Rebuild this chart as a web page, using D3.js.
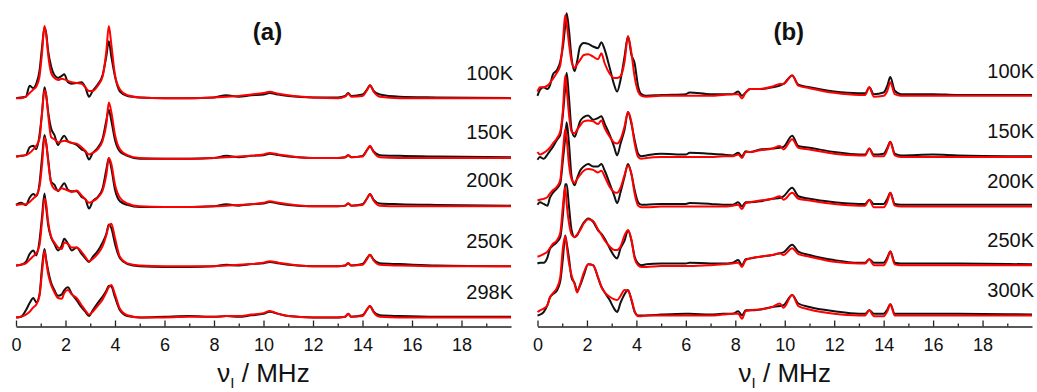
<!DOCTYPE html>
<html lang="en">
<head>
<meta charset="UTF-8">
<title>ENDOR spectra vs temperature</title>
<script src="https://d3js.org/d3.v7.min.js"></script>
<style>
  body { margin: 0; background: #fff; }
  svg { display: block; font-family: "Liberation Sans", Arial, sans-serif; }
  .axis path, .axis line { stroke: #222; stroke-width: 1.3px; }
  .axis text { font-family: "Liberation Sans", Arial, sans-serif; font-size: 18px; fill: #111; }
  .trace { fill: none; stroke-width: 2px; stroke-linejoin: round; }
  .exp { stroke: #111; }
  .sim { stroke: #ff0000; }
</style>
</head>
<body>
<div id="chart"></div>
<script>
// frequency grids (MHz)
const freqA = [0, 0.2, 0.4, 0.55, 0.7,  0.82, 0.95, 1.05, 1.15, 1.22,  1.3, 1.42, 1.55, 1.7, 1.85,
  1.95, 2.1, 2.25, 2.45, 2.65,  2.8, 2.95, 3.1, 3.3, 3.5,  3.65, 3.75, 3.85, 4.0, 4.2,
  4.5, 5.0, 6, 7, 8,  8.5, 9, 9.5, 10, 10.25,  10.6, 11, 12, 13, 13.3,
  13.42, 13.55, 14, 14.2, 14.3,  14.45, 14.7, 15.5, 17, 20];

const freqB = [0, 0.1, 0.25, 0.4, 0.5,  0.62, 0.78, 0.92, 1.03, 1.12,  1.18, 1.27, 1.38, 1.5, 1.6,
  1.72, 1.87, 2.05, 2.25, 2.45,  2.58, 2.72, 2.92, 3.1, 3.22,  3.36, 3.52, 3.66, 3.8, 3.93,
  4.07, 4.2, 4.4, 5, 6,  6.15, 7, 7.5, 7.9, 8.12,  8.27, 8.42, 8.6, 9, 9.5,
  9.8, 9.95, 10.3, 10.55, 11,  12, 13, 13.25, 13.42, 13.6,  14, 14.15, 14.27, 14.45, 14.7,
  16, 17, 20];

const tempsA = ["100K", "150K", "200K", "250K", "298K"];
const tempsB = ["100K", "150K", "200K", "250K", "300K"];

// vertical stacking offsets (normalised intensity units)
const offsetsA = [3.04, 2.23, 1.56, 0.72, 0];
const offsetsB = [2.58, 1.87, 1.28, 0.59, 0];

// panel (a): experiment (black) and simulation (red)
const expA100 = [0, 0.01, 0.02, 0.17, 0.14,  0.2, 0.38, 0.7, 0.98, 0.9,  0.65, 0.44, 0.32, 0.28, 0.31,
  0.33, 0.22, 0.2, 0.21, 0.22,  0.15, 0.02, 0.1, 0.19, 0.32,  0.58, 0.79, 0.58, 0.3, 0.09,
  0.03, 0.01, 0, 0, 0.01,  0.04, 0.02, 0.04, 0.05, 0.07,  0.05, 0.03, 0.01, 0.01, 0.03,
  0.07, 0.03, 0.05, 0.13, 0.18,  0.1, 0.05, 0.02, 0.01, 0];
const simA100 = [0, 0, 0.02, 0.07, 0.12,  0.16, 0.3, 0.62, 1.0, 0.88,  0.6, 0.35, 0.28, 0.25, 0.27,
  0.26, 0.24, 0.22, 0.21, 0.2,  0.15, 0.1, 0.1, 0.17, 0.3,  0.65, 1.0, 0.75, 0.32, 0.12,
  0.04, 0.01, 0, 0, 0.01,  0.02, 0.03, 0.05, 0.07, 0.09,  0.06, 0.04, 0.01, 0, 0.02,
  0.06, 0.02, 0.03, 0.12, 0.18,  0.09, 0.02, 0, 0, 0];

const expA150 = [0, 0.01, 0.02, 0.13, 0.15,  0.1, 0.3, 0.6, 0.96, 0.85,  0.62, 0.39, 0.3, 0.16, 0.25,
  0.29, 0.21, 0.19, 0.16, 0.1,  0.07, -0.04, 0.05, 0.12, 0.25,  0.5, 0.65, 0.5, 0.23, 0.07,
  0.01, -0.03, -0.03, -0.03, -0.02,  0.01, -0.01, 0.01, 0.02, 0.04,  0.02, 0, -0.02, -0.02, -0.01,
  0.02, -0.01, 0.01, 0.1, 0.14,  0.07, 0.02, 0.01, 0, -0.01];
const simA150 = [0, 0.01, 0.02, 0.05, 0.1,  0.15, 0.25, 0.6, 0.92, 0.85,  0.58, 0.27, 0.24, 0.2, 0.21,
  0.22, 0.21, 0.19, 0.18, 0.13,  0.08, 0.03, 0.05, 0.1, 0.22,  0.45, 0.75, 0.62, 0.3, 0.1,
  0.02, -0.02, -0.03, -0.03, -0.02,  -0.01, 0, 0.01, 0.03, 0.05,  0.03, 0.01, -0.02, -0.02, -0.01,
  0.02, -0.01, 0, 0.1, 0.15,  0.06, -0.01, -0.02, -0.02, -0.02];

const expA200 = [0, 0.03, 0, 0.1, 0.15,  0.12, 0.3, 0.65, 0.97, 0.85,  0.63, 0.32, 0.28, 0.19, 0.26,
  0.3, 0.21, 0.19, 0.19, 0.11,  0.08, -0.05, 0.05, 0.11, 0.23,  0.49, 0.65, 0.51, 0.21, 0.05,
  0, -0.03, -0.03, -0.03, -0.02,  0.01, -0.01, 0.01, 0.02, 0.04,  0.02, 0, -0.02, -0.02, -0.01,
  0.02, -0.01, 0.01, 0.1, 0.15,  0.07, 0.02, 0.01, 0, -0.01];
const simA200 = [0, 0.01, 0.01, 0.04, 0.09,  0.13, 0.25, 0.55, 0.93, 0.86,  0.6, 0.3, 0.22, 0.2, 0.23,
  0.22, 0.2, 0.18, 0.2, 0.13,  0.08, 0.03, 0.05, 0.1, 0.2,  0.42, 0.65, 0.57, 0.28, 0.1,
  0.02, -0.02, -0.03, -0.03, -0.02,  -0.01, 0, 0.01, 0.03, 0.05,  0.03, 0.01, -0.02, -0.02, -0.01,
  0.02, -0.01, 0, 0.1, 0.15,  0.06, -0.01, -0.02, -0.02, -0.02];

const expA250 = [0, 0.01, 0.05, 0.16, 0.21,  0.14, 0.35, 0.67, 1.0, 0.8,  0.56, 0.39, 0.3, 0.21, 0.28,
  0.37, 0.3, 0.21, 0.25, 0.16,  0.1, 0.05, 0.12, 0.2, 0.32,  0.44, 0.57, 0.52, 0.3, 0.1,
  0.02, -0.01, -0.02, -0.02, -0.01,  0.01, 0, 0.02, 0.03, 0.05,  0.03, 0.01, -0.01, -0.01, 0,
  0.03, 0, 0.02, 0.11, 0.15,  0.08, 0.03, 0.02, 0, -0.01];
const simA250 = [0, 0.01, 0.03, 0.08, 0.13,  0.17, 0.28, 0.6, 0.93, 0.85,  0.6, 0.4, 0.32, 0.25, 0.23,
  0.32, 0.3, 0.25, 0.25, 0.19,  0.12, 0.06, 0.09, 0.16, 0.27,  0.42, 0.55, 0.58, 0.38, 0.12,
  0.03, 0, -0.01, -0.01, -0.01,  0, 0.01, 0.02, 0.04, 0.06,  0.04, 0.02, -0.01, -0.01, 0,
  0.03, 0, 0.01, 0.1, 0.15,  0.07, 0.01, 0, -0.01, -0.01];

const expA298 = [0, 0.01, 0.1, 0.2, 0.27,  0.21, 0.32, 0.69, 0.95, 0.8,  0.65, 0.48, 0.38, 0.3, 0.32,
  0.38, 0.42, 0.33, 0.24, 0.14,  0.08, 0.02, 0.1, 0.2, 0.29,  0.37, 0.44, 0.43, 0.28, 0.1,
  0.02, 0, 0.01, 0.02, 0.01,  0.02, 0.01, 0.03, 0.05, 0.08,  0.05, 0.02, 0, 0, 0.01,
  0.05, 0.01, 0.03, 0.12, 0.16,  0.08, 0.03, 0.02, 0.01, 0.01];
const simA298 = [0, 0.01, 0.04, 0.08, 0.14,  0.18, 0.3, 0.62, 0.92, 0.78,  0.6, 0.45, 0.35, 0.27, 0.26,
  0.34, 0.38, 0.32, 0.27, 0.17,  0.1, 0.04, 0.08, 0.16, 0.25,  0.35, 0.42, 0.45, 0.32, 0.12,
  0.03, 0, 0, 0.01, 0.01,  0.02, 0.02, 0.04, 0.06, 0.09,  0.05, 0.02, 0, 0, 0.01,
  0.05, 0.01, 0.02, 0.12, 0.16,  0.07, 0.01, 0, 0, 0];

// panel (b)
const expB100 = [0, 0.07, 0.1, 0.08, 0.12,  0.25, 0.3, 0.4, 0.58, 0.82,  0.97, 0.78, 0.44, 0.29, 0.4,
  0.58, 0.62, 0.61, 0.58, 0.56,  0.63, 0.54, 0.33, 0.13, 0.05,  0.19, 0.46, 0.7, 0.48, 0.38,
  0.11, 0.02, 0, 0.01, 0.02,  0.04, 0.02, 0.02, 0.02, 0.05,  0, 0.04, 0.08, 0.08, 0.1,
  0.12, 0.14, 0.24, 0.13, 0.1,  0.05, 0.03, 0.03, 0.1, 0.02,  0.04, 0.12, 0.22, 0.06, 0.02,
  0.02, 0.01, 0.01];
const simB100 = [0.05, 0.1, 0.1, 0.12, 0.15,  0.2, 0.27, 0.36, 0.65, 0.95,  0.85, 0.62, 0.4, 0.33, 0.37,
  0.42, 0.48, 0.49, 0.46, 0.43,  0.5, 0.38, 0.26, 0.21, 0.21,  0.23, 0.4, 0.7, 0.5, 0.22,
  0.05, 0, -0.01, 0, 0,  0, 0, 0.01, 0.02, 0.02,  -0.03, 0.04, 0.08, 0.08, 0.11,
  0.14, 0.14, 0.24, 0.12, 0.09,  0.035, 0.01, 0.01, 0.1, -0.01,  0, 0.06, 0.16, 0.02, 0,
  0, 0, 0];

const expB150 = [-0.04, -0.01, -0.03, 0.02, 0.06,  0.11, 0.19, 0.25, 0.5, 0.8,  0.98, 0.7, 0.31, 0.23, 0.3,
  0.41, 0.46, 0.48, 0.43, 0.45,  0.47, 0.38, 0.25, 0.11, 0.01,  0.15, 0.31, 0.52, 0.38, 0.19,
  0.03, 0, 0.01, 0.03, 0.02,  0.04, 0.03, 0.02, 0.01, 0.04,  0, 0.06, 0.05, 0.08, 0.09,
  0.1, 0.11, 0.24, 0.12, 0.1,  0.05, 0.02, 0.02, 0.09, 0.02,  0.03, 0.1, 0.17, 0.03, 0.01,
  0.02, 0.01, 0];
const simB150 = [0.05, 0.02, 0.04, 0.07, 0.1,  0.15, 0.21, 0.29, 0.55, 0.95,  0.8, 0.5, 0.29, 0.27, 0.31,
  0.36, 0.41, 0.42, 0.41, 0.38,  0.42, 0.33, 0.23, 0.16, 0.15,  0.2, 0.35, 0.52, 0.4, 0.15,
  -0.01, -0.03, -0.02, -0.01, -0.01,  -0.01, -0.01, 0, 0, 0.02,  -0.02, 0.05, 0.05, 0.07, 0.09,
  0.12, 0.08, 0.2, 0.1, 0.08,  0.03, 0.01, 0.01, 0.09, 0,  0, 0.08, 0.17, 0.01, -0.01,
  -0.01, -0.01, -0.01];

const expB200 = [0.02, 0.05, 0.03, 0.01, 0.1,  0.16, 0.21, 0.27, 0.55, 0.8,  0.99, 0.75, 0.35, 0.25, 0.33,
  0.42, 0.47, 0.5, 0.47, 0.47,  0.5, 0.42, 0.27, 0.13, 0.04,  0.17, 0.35, 0.5, 0.38, 0.19,
  0.05, 0.02, 0.02, 0.03, 0.03,  0.04, 0.03, 0.02, 0.02, 0.05,  0, 0.05, 0.05, 0.06, 0.09,
  0.1, 0.12, 0.22, 0.12, 0.09,  0.05, 0.03, 0.03, 0.08, 0.03,  0.03, 0.09, 0.16, 0.03, 0.02,
  0.02, 0.02, 0.02];
const simB200 = [0.07, 0.08, 0.09, 0.11, 0.15,  0.19, 0.23, 0.31, 0.65, 0.91,  0.8, 0.5, 0.32, 0.28, 0.32,
  0.37, 0.42, 0.44, 0.43, 0.4,  0.42, 0.35, 0.23, 0.17, 0.16,  0.22, 0.37, 0.48, 0.38, 0.15,
  0.01, -0.01, -0.01, 0, 0,  0, 0, 0, 0.01, 0.02,  -0.03, 0.04, 0.05, 0.07, 0.09,
  0.12, 0.08, 0.16, 0.09, 0.07,  0.03, 0.01, 0.01, 0.08, -0.01,  -0.01, 0.06, 0.16, 0.01, 0,
  0, 0, 0];

const expB250 = [0.02, 0.03, 0.03, 0.09, 0.19,  0.23, 0.27, 0.33, 0.6, 0.95,  0.95, 0.7, 0.41, 0.33, 0.35,
  0.42, 0.5, 0.55, 0.51, 0.41,  0.37, 0.31, 0.2, 0.11, 0.08,  0.2, 0.29, 0.41, 0.29, 0.1,
  0.02, 0, 0.01, 0.02, 0.02,  0.03, 0.02, 0.02, 0.03, 0.06,  0, 0.07, 0.08, 0.1, 0.12,
  0.14, 0.15, 0.24, 0.16, 0.12,  0.06, 0.03, 0.03, 0.07, 0.03,  0.03, 0.09, 0.16, 0.03, 0.02,
  0.02, 0.02, 0.01];
const simB250 = [0.1, 0.11, 0.13, 0.16, 0.2,  0.25, 0.29, 0.38, 0.7, 0.92,  0.72, 0.5, 0.36, 0.33, 0.36,
  0.41, 0.49, 0.54, 0.52, 0.42,  0.36, 0.29, 0.22, 0.18, 0.18,  0.22, 0.35, 0.41, 0.3, 0.08,
  0, -0.02, -0.02, -0.01, -0.01,  -0.01, 0, 0.01, 0.02, 0.03,  -0.02, 0.06, 0.08, 0.1, 0.12,
  0.14, 0.12, 0.2, 0.13, 0.1,  0.04, 0.02, 0.02, 0.07, 0,  0, 0.07, 0.16, 0.01, 0,
  0, 0, 0];

const expB300 = [0, 0.01, 0.04, 0.12, 0.21,  0.25, 0.29, 0.4, 0.68, 0.94,  0.85, 0.68, 0.44, 0.38, 0.29,
  0.35, 0.47, 0.6, 0.59, 0.44,  0.34, 0.27, 0.18, 0.08, 0.04,  0.15, 0.25, 0.3, 0.18, 0.04,
  0, 0, 0, 0.01, 0.02,  0.02, 0.01, 0.02, 0.02, 0.05,  0, 0.06, 0.06, 0.07, 0.1,
  0.11, 0.12, 0.24, 0.14, 0.1,  0.05, 0.02, 0.02, 0.06, 0.02,  0.02, 0.07, 0.13, 0.02, 0.02,
  0.02, 0.02, 0.01];
const simB300 = [0.04, 0.06, 0.08, 0.12, 0.21,  0.26, 0.32, 0.45, 0.8, 0.93,  0.82, 0.62, 0.47, 0.37, 0.27,
  0.36, 0.5, 0.6, 0.59, 0.45,  0.34, 0.27, 0.22, 0.19, 0.18,  0.23, 0.3, 0.29, 0.19, 0.05,
  -0.01, -0.01, 0, 0, 0,  0, 0, 0.01, 0.02, 0.02,  -0.04, 0.05, 0.06, 0.07, 0.1,
  0.14, 0.09, 0.24, 0.11, 0.07,  0.02, 0, 0, 0.06, -0.01,  -0.01, 0.05, 0.13, 0, 0,
  0, 0, 0];

const W = 1037, H = 392;
const axisY = 326.5;

const panels = [
  { title: "(a)", freq: freqA, temps: tempsA, offsets: offsetsA,
    exp: [expA100, expA150, expA200, expA250, expA298],
    sim: [simA100, simA150, simA200, simA250, simA298],
    left: 16, right: 511, yDomain: [-0.125, 4.4] },
  { title: "(b)", freq: freqB, temps: tempsB, offsets: offsetsB,
    exp: [expB100, expB150, expB200, expB250, expB300],
    sim: [simB100, simB150, simB200, simB250, simB300],
    left: 537.5, right: 1032, yDomain: [-0.13, 3.706] }
];

const svg = d3.select('#chart').append('svg')
  .attr('width', W)
  .attr('height', H);

svg.append('rect').attr('width', W).attr('height', H).attr('fill', '#fff');

panels.forEach(p => {
  const g = svg.append('g');
  const x = d3.scaleLinear().domain([0, 20]).range([p.left, p.right]);
  const y = d3.scaleLinear().domain(p.yDomain).range([axisY, 0]);

  // spectra, black first then red on top
  p.temps.forEach((t, i) => {
    const line = d3.line()
      .x(d => x(d[0]))
      .y(d => y(d[1] + p.offsets[i]))
      .curve(d3.curveMonotoneX);

    g.append('path')
      .datum(p.freq.map((f, k) => [f, p.exp[i][k]]))
      .attr('class', 'trace exp')
      .attr('d', line);

    g.append('path')
      .datum(p.freq.map((f, k) => [f, p.sim[i][k]]))
      .attr('class', 'trace sim')
      .attr('d', line);

    g.append('text')
      .attr('x', p.right + 2)
      .attr('y', y(p.offsets[i]) - 18)
      .attr('text-anchor', 'end')
      .attr('font-size', 20)
      .attr('fill', '#111')
      .text(t);
  });

  // x axis: major ticks with labels, minor ticks between, all pointing inward
  g.append('g')
    .attr('class', 'axis')
    .attr('transform', `translate(0,${axisY})`)
    .call(d3.axisBottom(x)
      .tickValues(d3.range(0, 20, 2))
      .tickSizeInner(-6)
      .tickSizeOuter(0)
      .tickPadding(12)
      .tickFormat(d3.format('d')));

  const minor = g.append('g')
    .attr('class', 'axis')
    .attr('transform', `translate(0,${axisY})`)
    .call(d3.axisBottom(x)
      .tickValues(d3.range(1, 20, 2))
      .tickSizeInner(-3)
      .tickSizeOuter(0)
      .tickFormat(''));
  minor.select('.domain').remove();

  const cx = (p.left + p.right) / 2;

  // axis title
  const lab = g.append('text')
    .attr('x', cx)
    .attr('y', 381.5)
    .attr('text-anchor', 'middle')
    .attr('font-size', 26)
    .attr('fill', '#111');
  lab.append('tspan').text('ν');
  lab.append('tspan').attr('font-size', 15).attr('dy', 6).text('I');
  lab.append('tspan').attr('dy', -6).text(' / MHz');

  // panel title
  g.append('text')
    .attr('x', cx + 4)
    .attr('y', 40)
    .attr('text-anchor', 'middle')
    .attr('font-size', 24)
    .attr('font-weight', 'bold')
    .attr('fill', '#111')
    .text(p.title);
});
</script>
</body>
</html>
